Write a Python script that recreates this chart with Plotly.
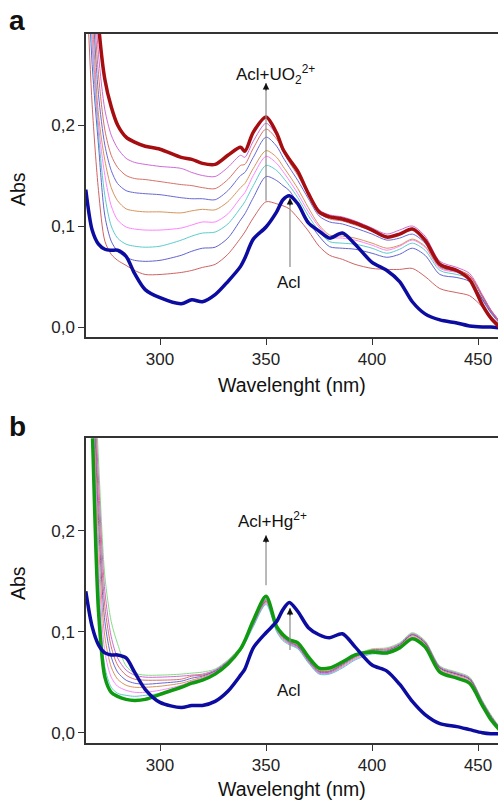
import plotly.graph_objects as go

W, H = 498, 802

# ---------------- data ----------------
wavelength = [265, 268, 271, 274, 277, 280, 284, 288, 293, 300, 310, 315, 320, 326, 332, 338, 340, 344, 350,
              355, 358, 361, 365, 370, 375, 380, 386, 392, 400, 407, 413, 419, 425, 432, 440, 446, 452, 456, 460]

# panel a : Acl + UO2(2+)
acl_a = [0.136, 0.096, 0.082, 0.077, 0.076, 0.076, 0.070, 0.053, 0.037, 0.029, 0.023, 0.027, 0.025, 0.032, 0.045, 0.060, 0.068, 0.087, 0.099,
         0.114, 0.126, 0.130, 0.122, 0.103, 0.095, 0.088, 0.093, 0.082, 0.064, 0.056, 0.045, 0.025, 0.013, 0.007, 0.004, 0.001, 0.000, 0.000, -0.001]
uo2_final = [0.50, 0.40, 0.30, 0.245, 0.218, 0.200, 0.188, 0.183, 0.179, 0.176, 0.168, 0.166, 0.162, 0.161, 0.170, 0.178, 0.174, 0.193, 0.208,
             0.192, 0.176, 0.166, 0.154, 0.132, 0.114, 0.109, 0.107, 0.103, 0.096, 0.089, 0.092, 0.097, 0.086, 0.062, 0.056, 0.047, 0.022, 0.009, 0.000]
uo2_t1 = [0.52, 0.37, 0.27, 0.215, 0.190, 0.177, 0.167, 0.163, 0.161, 0.159, 0.157, 0.153, 0.150, 0.149, 0.158, 0.170, 0.168, 0.184, 0.2017,
          0.190, 0.178, 0.166, 0.153, 0.134, 0.116, 0.111, 0.109, 0.105, 0.098, 0.092, 0.096, 0.100, 0.090, 0.065, 0.059, 0.053, 0.032, 0.017, 0.006]
uo2_t2 = [0.50, 0.35, 0.25, 0.195, 0.170, 0.158, 0.150, 0.147, 0.146, 0.144, 0.141, 0.140, 0.138, 0.137, 0.146, 0.160, 0.161, 0.177, 0.196,
          0.186, 0.174, 0.163, 0.150, 0.131, 0.113, 0.107, 0.105, 0.101, 0.095, 0.089, 0.092, 0.097, 0.087, 0.063, 0.057, 0.051, 0.030, 0.016, 0.005]
uo2_t3 = [0.48, 0.33, 0.23, 0.180, 0.155, 0.142, 0.135, 0.133, 0.132, 0.131, 0.128, 0.127, 0.127, 0.126, 0.135, 0.150, 0.153, 0.168, 0.188,
          0.179, 0.168, 0.158, 0.145, 0.127, 0.110, 0.104, 0.102, 0.098, 0.092, 0.086, 0.088, 0.092, 0.083, 0.060, 0.055, 0.047, 0.027, 0.014, 0.004]
uo2_t4 = [0.46, 0.31, 0.21, 0.165, 0.138, 0.125, 0.117, 0.115, 0.114, 0.114, 0.113, 0.115, 0.1165, 0.116, 0.124, 0.138, 0.142, 0.157, 0.1746,
          0.168, 0.159, 0.150, 0.137, 0.118, 0.101, 0.091, 0.090, 0.088, 0.083, 0.078, 0.081, 0.087, 0.080, 0.059, 0.055, 0.051, 0.031, 0.017, 0.006]
uo2_t5 = [0.44, 0.29, 0.20, 0.150, 0.120, 0.106, 0.099, 0.097, 0.096, 0.096, 0.098, 0.101, 0.104, 0.104, 0.112, 0.128, 0.133, 0.150, 0.169,
          0.162, 0.154, 0.145, 0.132, 0.114, 0.099, 0.089, 0.088, 0.086, 0.081, 0.076, 0.080, 0.086, 0.079, 0.058, 0.054, 0.050, 0.031, 0.017, 0.006]
uo2_t6 = [0.42, 0.28, 0.19, 0.130, 0.100, 0.088, 0.082, 0.080, 0.079, 0.080, 0.086, 0.090, 0.093, 0.094, 0.102, 0.118, 0.124, 0.140, 0.160,
          0.155, 0.148, 0.140, 0.128, 0.110, 0.095, 0.0845, 0.083, 0.082, 0.078, 0.073, 0.077, 0.083, 0.076, 0.056, 0.052, 0.048, 0.030, 0.016, 0.006]
uo2_t7 = [0.40, 0.26, 0.18, 0.110, 0.085, 0.075, 0.069, 0.066, 0.065, 0.066, 0.071, 0.075, 0.078, 0.079, 0.088, 0.106, 0.112, 0.128, 0.149,
          0.145, 0.140, 0.135, 0.122, 0.105, 0.090, 0.0795, 0.078, 0.077, 0.073, 0.069, 0.072, 0.078, 0.071, 0.052, 0.049, 0.045, 0.028, 0.015, 0.005]
uo2_t8 = [0.36, 0.22, 0.135, 0.085, 0.072, 0.066, 0.061, 0.056, 0.052, 0.052, 0.054, 0.056, 0.059, 0.062, 0.072, 0.088, 0.094, 0.108, 0.124,
          0.122, 0.120, 0.117, 0.108, 0.095, 0.080, 0.071, 0.067, 0.062, 0.058, 0.057, 0.057, 0.058, 0.050, 0.038, 0.034, 0.031, 0.020, 0.010, 0.003]

# panel b : Acl + Hg(2+)
acl_b = [0.140, 0.105, 0.087, 0.079, 0.077, 0.077, 0.074, 0.060, 0.043, 0.030, 0.025, 0.027, 0.027, 0.031, 0.041, 0.057, 0.063, 0.084, 0.099,
         0.110, 0.122, 0.129, 0.120, 0.104, 0.097, 0.094, 0.098, 0.085, 0.067, 0.061, 0.048, 0.031, 0.018, 0.009, 0.006, 0.003, 0.000, -0.001, -0.001]
hg_final = [0.50, 0.305, 0.12, 0.055, 0.040, 0.036, 0.033, 0.032, 0.033, 0.038, 0.045, 0.049, 0.052, 0.058, 0.068, 0.083, 0.091, 0.111, 0.135,
            0.105, 0.097, 0.092, 0.089, 0.075, 0.064, 0.064, 0.070, 0.077, 0.080, 0.079, 0.084, 0.093, 0.085, 0.060, 0.054, 0.049, 0.027, 0.013, 0.003]
hg_t1 = [0.55, 0.34, 0.15, 0.065, 0.045, 0.039, 0.037, 0.036, 0.037, 0.039, 0.046, 0.050, 0.053, 0.059, 0.068, 0.081, 0.088, 0.105, 0.127,
         0.100, 0.091, 0.087, 0.083, 0.069, 0.058, 0.058, 0.064, 0.072, 0.078, 0.078, 0.084, 0.094, 0.086, 0.061, 0.055, 0.050, 0.028, 0.014, 0.004]
hg_t2 = [0.56, 0.36, 0.17, 0.080, 0.055, 0.046, 0.042, 0.040, 0.040, 0.042, 0.047, 0.051, 0.054, 0.060, 0.069, 0.082, 0.089, 0.106, 0.128,
         0.101, 0.092, 0.088, 0.084, 0.070, 0.059, 0.059, 0.065, 0.073, 0.079, 0.079, 0.085, 0.095, 0.087, 0.062, 0.056, 0.051, 0.029, 0.015, 0.004]
hg_t3 = [0.57, 0.37, 0.19, 0.095, 0.065, 0.053, 0.047, 0.045, 0.045, 0.046, 0.049, 0.052, 0.055, 0.060, 0.069, 0.082, 0.089, 0.106, 0.129,
         0.102, 0.093, 0.088, 0.084, 0.070, 0.059, 0.059, 0.066, 0.074, 0.080, 0.080, 0.086, 0.096, 0.088, 0.063, 0.057, 0.052, 0.029, 0.015, 0.004]
hg_t4 = [0.58, 0.38, 0.21, 0.110, 0.075, 0.060, 0.052, 0.049, 0.048, 0.049, 0.051, 0.054, 0.056, 0.061, 0.070, 0.083, 0.090, 0.107, 0.130,
         0.103, 0.094, 0.089, 0.085, 0.071, 0.060, 0.060, 0.067, 0.075, 0.081, 0.081, 0.087, 0.097, 0.089, 0.064, 0.058, 0.053, 0.030, 0.016, 0.005]
hg_t5 = [0.59, 0.39, 0.23, 0.125, 0.085, 0.067, 0.057, 0.053, 0.052, 0.052, 0.053, 0.056, 0.057, 0.061, 0.070, 0.083, 0.090, 0.108, 0.131,
         0.104, 0.095, 0.090, 0.086, 0.072, 0.061, 0.061, 0.068, 0.076, 0.082, 0.082, 0.087, 0.097, 0.089, 0.064, 0.058, 0.053, 0.030, 0.016, 0.005]
hg_t6 = [0.60, 0.40, 0.25, 0.140, 0.095, 0.074, 0.062, 0.057, 0.055, 0.055, 0.056, 0.057, 0.058, 0.062, 0.071, 0.084, 0.091, 0.109, 0.132,
         0.105, 0.096, 0.090, 0.086, 0.072, 0.061, 0.061, 0.068, 0.076, 0.082, 0.083, 0.088, 0.098, 0.090, 0.065, 0.059, 0.054, 0.031, 0.017, 0.005]
hg_t7 = [0.62, 0.42, 0.27, 0.155, 0.110, 0.088, 0.066, 0.059, 0.057, 0.057, 0.058, 0.059, 0.060, 0.063, 0.072, 0.085, 0.092, 0.110, 0.133,
         0.106, 0.097, 0.091, 0.087, 0.073, 0.062, 0.062, 0.069, 0.077, 0.083, 0.084, 0.089, 0.099, 0.091, 0.066, 0.060, 0.055, 0.032, 0.018, 0.006]

x_ticks = [300, 350, 400, 450]
y_ticks = [0.0, 0.1, 0.2]
y_tick_labels = ["0,0", "0,1", "0,2"]

# ---------------- styling ----------------
FONT = "Liberation Sans, Arial, sans-serif"
thin_a = [(uo2_t8, "#c84848"), (uo2_t7, "#4848c8"), (uo2_t6, "#40c4c4"), (uo2_t5, "#ff6eff"),
          (uo2_t4, "#d08240"), (uo2_t3, "#5050d0"), (uo2_t2, "#d05a50"), (uo2_t1, "#c850d0")]
thin_b = [(hg_t7, "#70d870"), (hg_t6, "#c850d0"), (hg_t5, "#d05a50"), (hg_t4, "#5050d0"),
          (hg_t3, "#d08240"), (hg_t2, "#ff6eff"), (hg_t1, "#40c4c4")]

fig = go.Figure()

def add(y, color, width, xa, ya, opacity=1.0):
    fig.add_trace(go.Scatter(x=wavelength, y=y, mode="lines", xaxis=xa, yaxis=ya,
                             line=dict(color=color, width=width, shape="spline", smoothing=0.8),
                             opacity=opacity, showlegend=False, hoverinfo="skip"))

for ys, c in thin_a:
    add(ys, c, 1, "x", "y", 0.85)
add(acl_a, "#0c0ca0", 3.5, "x", "y")
add(uo2_final, "#a50d10", 3.5, "x", "y")

for ys, c in thin_b:
    add(ys, c, 1, "x2", "y2", 0.85)
add(hg_final, "#109a10", 3.5, "x2", "y2")
add(acl_b, "#0c0ca0", 3.5, "x2", "y2")

def px(x):
    return x / W

def py(y):
    return 1 - y / H

axis_common = dict(showgrid=False, zeroline=False, showline=True, linecolor="#333", linewidth=1.5,
                   ticks="outside", ticklen=6, tickwidth=1.2, tickcolor="#333",
                   tickfont=dict(family=FONT, size=17, color="#222"))

xr = [265.1, 459.4]
fig.update_layout(
    width=W, height=H, margin=dict(l=0, r=0, t=0, b=0),
    paper_bgcolor="white", plot_bgcolor="white", showlegend=False,
    xaxis=dict(domain=[px(86), 1.0], range=xr, anchor="y", tickvals=x_ticks, mirror=True, **axis_common),
    yaxis=dict(domain=[py(337), py(34)], range=[-0.0099, 0.2901], anchor="x",
               tickvals=y_ticks, ticktext=y_tick_labels, **axis_common),
    xaxis2=dict(domain=[px(86), 1.0], range=xr, anchor="y2", tickvals=x_ticks, mirror=True, **axis_common),
    yaxis2=dict(domain=[py(743.3), py(438.3)], range=[-0.0105, 0.2915], anchor="x2",
                tickvals=y_ticks, ticktext=y_tick_labels, **axis_common),
)

ann = []
shapes = []

def text(x, y, s, size=17, bold=False, angle=0):
    ann.append(dict(xref="paper", yref="paper", x=px(x), y=py(y), text=f"<b>{s}</b>" if bold else s,
                    showarrow=False, xanchor="center", yanchor="middle", textangle=angle,
                    font=dict(family=FONT, size=size, color="#111")))

# panel labels and axis titles
text(17, 21, "a", 28, bold=True)
text(17, 426, "b", 28, bold=True)
text(292, 385, "Wavelenght (nm)", 19.5)
text(292, 789, "Wavelenght (nm)", 19.5)
text(18, 189, "Abs", 19.5, angle=-90)
text(18, 583, "Abs", 19.5, angle=-90)

def arrow(xa, ya, x, y0, y1):
    shapes.append(dict(type="line", xref=xa, yref=ya, x0=x, x1=x, y0=y0, y1=y1,
                       line=dict(color="#8a8a8a", width=1.2)))
    ann.append(dict(xref=xa, yref=ya, x=x, y=y1, ax=0, ay=9, axref="pixel", ayref="pixel",
                    showarrow=True, arrowhead=2, arrowsize=1.3, arrowwidth=1, arrowcolor="#111", text=""))

arrow("x", "y", 350, 0.125, 0.2416)
arrow("x", "y", 361.3, 0.0594, 0.1277)
arrow("x2", "y2", 350, 0.146, 0.1956)
arrow("x2", "y2", 361.3, 0.0819, 0.1235)

text(275, 74, "Acl+UO<sub>2</sub><sup>2+</sup>", 17)
text(289, 282, "Acl", 17)
text(272, 520, "Acl+Hg<sup>2+</sup>", 17)
text(289, 690, "Acl", 17)

fig.update_layout(annotations=ann, shapes=shapes)
fig.write_html("out.html", config={"displayModeBar": False},
               post_script="document.body.style.margin='0';document.body.style.overflow='hidden';")
